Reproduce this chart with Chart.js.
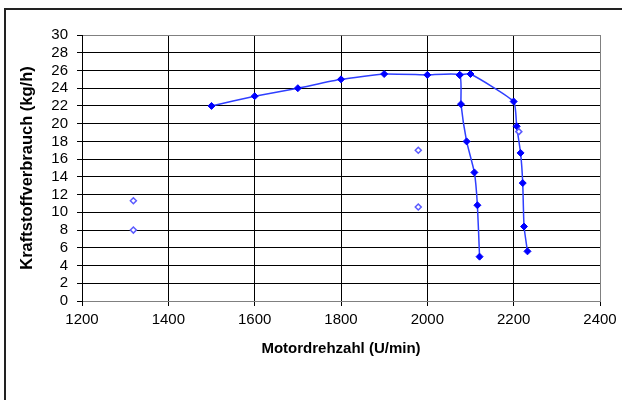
<!DOCTYPE html>
<html>
<head>
<meta charset="utf-8">
<script src="https://cdn.jsdelivr.net/npm/chart.js@4.4.1/dist/chart.umd.min.js"></script>
<style>
    html, body { margin: 0; padding: 0; background: #fff; }
    #frame {
        position: absolute; left: 4px; top: 8px; width: 700px; height: 500px;
        border-left: 2px solid #222; border-top: 2px solid #222;
    }
    #wrap { position: absolute; left: 0; top: 0; width: 622px; height: 400px; }
</style>
</head>
<body>
<div id="frame"></div>
<div id="wrap"><canvas id="chart"></canvas></div>
<script>
// Volllast-Kennlinie bis 2075 U/min, dann Abregelung (linker Ast)
const speedA = [1500, 1600, 1700, 1800, 1900, 2000, 2075, 2078, 2091, 2109, 2116, 2121];
const fuelA  = [22.0, 23.1, 24.0, 25.0, 25.6, 25.5, 25.5, 22.2, 18.0, 14.5, 10.8, 5.0];

// zweiter Ast (rechts)
const speedB = [2075, 2100, 2200, 2207, 2216, 2221, 2224, 2232];
const fuelB  = [25.5, 25.6, 22.5, 19.7, 16.7, 13.3, 8.4, 5.6];

// Einzelmesspunkte (hohle Rauten)
const speedC = [1319, 1319, 1979, 1979, 2212];
const fuelC  = [11.3, 8.0, 17.0, 10.6, 19.1];

const xTickValues = [1200, 1400, 1600, 1800, 2000, 2200, 2400];
const yTickValues = [0, 2, 4, 6, 8, 10, 12, 14, 16, 18, 20, 22, 24, 26, 28, 30];

const toPoints = (xs, ys) => xs.map((x, i) => ({ x: x, y: ys[i] }));

const fontFamily = "'Liberation Sans', Arial, sans-serif";
const lineColor = '#2f3fff';
const markerColor = '#0000ff';

function lineSeries(data) {
    return {
        data: data,
        showLine: true,
        tension: 0.15,
        borderColor: lineColor,
        borderWidth: 1.5,
        pointStyle: 'rectRot',
        pointRadius: 3.5,
        pointBorderWidth: 1,
        pointBackgroundColor: markerColor,
        pointBorderColor: markerColor,
        order: 1
    };
}

const ctx = document.getElementById('chart').getContext('2d');
new Chart(ctx, {
    type: 'scatter',
    data: {
        datasets: [
            lineSeries(toPoints(speedA, fuelA)),
            lineSeries(toPoints(speedB, fuelB)),
            {
                data: toPoints(speedC, fuelC),
                showLine: false,
                pointStyle: 'rectRot',
                pointRadius: 3,
                pointBorderWidth: 1.5,
                pointBackgroundColor: '#ffffff',
                pointBorderColor: '#5a5aff',
                order: 0
            }
        ]
    },
    options: {
        responsive: true,
        maintainAspectRatio: false,
        animation: false,
        layout: { padding: { left: 0, top: 35, right: 22, bottom: 0 } },
        plugins: {
            legend: { display: false },
            tooltip: { enabled: false }
        },
        scales: {
            x: {
                type: 'linear',
                min: 1200,
                max: 2400,
                afterBuildTicks: scale => { scale.ticks = xTickValues.map(v => ({ value: v })); },
                afterFit: scale => { scale.height = 99; },
                grid: {
                    color: c => (c.tick && c.tick.value === 2400) ? '#808080' : '#000000',
                    tickColor: '#000000',
                    tickLength: 5,
                    lineWidth: 1
                },
                border: { color: '#808080', width: 1 },
                ticks: {
                    color: '#000',
                    padding: 5,
                    autoSkip: false,
                    maxRotation: 0,
                    callback: v => String(v),
                    font: { family: fontFamily, size: 15 }
                },
                title: {
                    display: true,
                    text: 'Motordrehzahl (U/min)',
                    color: '#000',
                    font: { family: fontFamily, size: 15, weight: 'bold' },
                    padding: { top: 0, bottom: 42 }
                }
            },
            y: {
                type: 'linear',
                min: 0,
                max: 30,
                afterBuildTicks: scale => { scale.ticks = yTickValues.map(v => ({ value: v })); },
                afterFit: scale => { scale.width = 82; },
                grid: {
                    color: c => (c.tick && (c.tick.value === 30 || c.tick.value === 0)) ? '#808080' : '#000000',
                    tickColor: '#000000',
                    tickLength: 5,
                    lineWidth: 1
                },
                border: { color: '#000000', width: 1 },
                ticks: {
                    color: '#000',
                    padding: 9,
                    autoSkip: false,
                    callback: v => String(v),
                    font: { family: fontFamily, size: 15 }
                },
                title: {
                    display: true,
                    text: 'Kraftstoffverbrauch (kg/h)',
                    color: '#000',
                    font: { family: fontFamily, size: 16.5, weight: 'bold' },
                    padding: { top: 18, bottom: 0 }
                }
            }
        }
    }
});
</script>
</body>
</html>
